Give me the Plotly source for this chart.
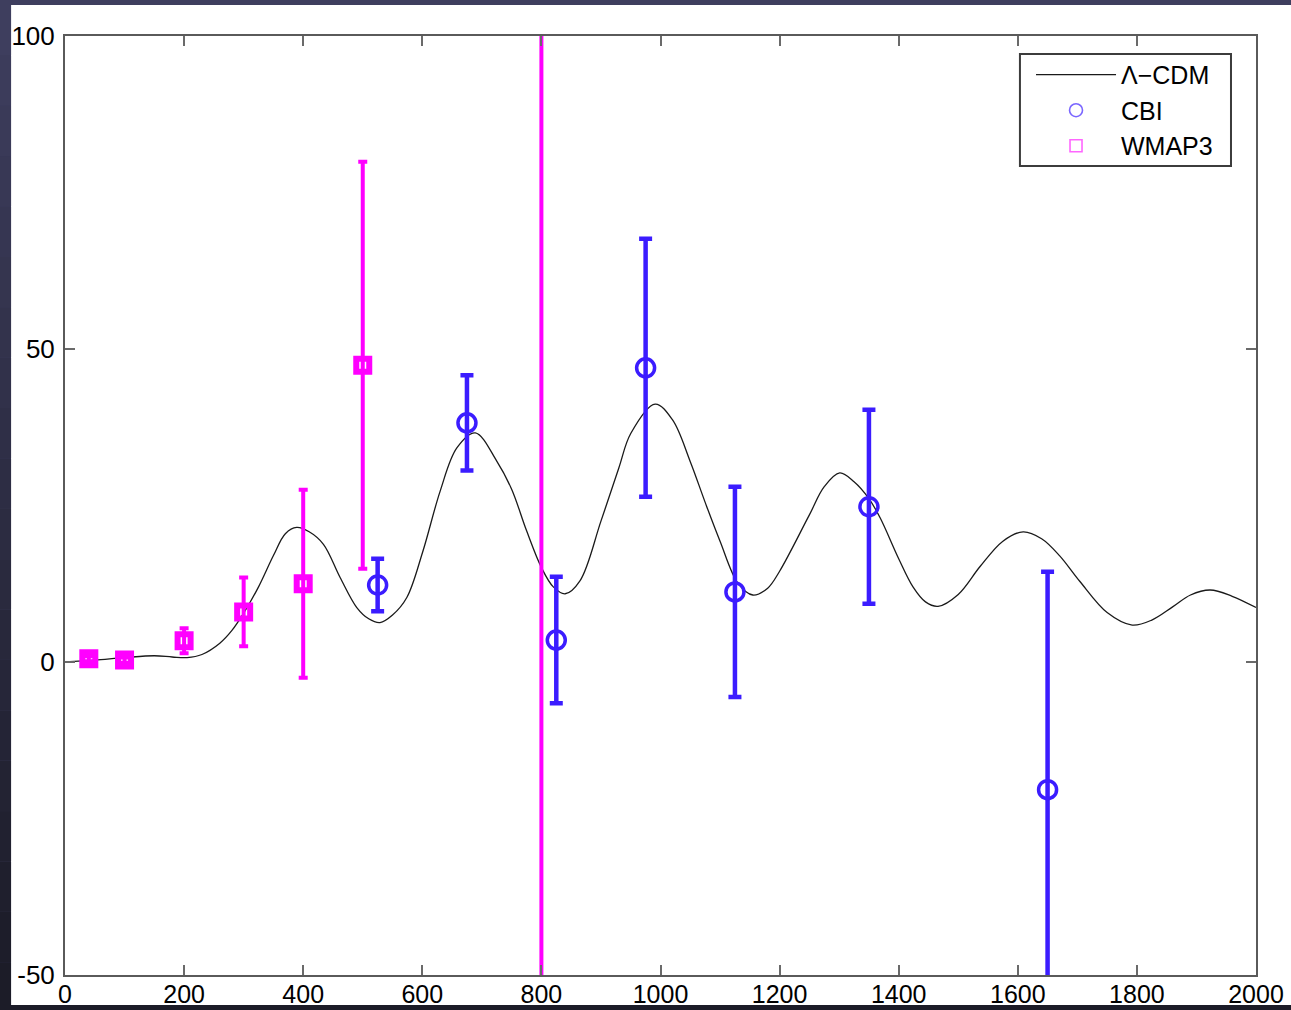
import plotly.graph_objects as go

# ---- data ----
# Lambda-CDM model curve
lcdm_l = [0, 50, 100, 150, 180, 205, 230, 260, 280, 300, 325, 350, 370, 389, 410,
          434, 462, 490, 510, 529, 550, 574, 601, 630, 658, 689, 725, 750, 775,
          800, 820, 840, 865, 900, 930, 950, 991, 1020, 1050, 1075, 1100, 1130,
          1155, 1180, 1200, 1250, 1275, 1301, 1325, 1350, 1369, 1400, 1424, 1445,
          1466, 1500, 1537, 1575, 1609, 1640, 1670, 1704, 1750, 1792, 1825, 1860,
          1890, 1923, 1960, 2000]
lcdm_v = [0.0, 0.3, 0.7, 1.0, 0.8, 0.7, 1.2, 3.0, 5.0, 7.8, 12.0, 17.0, 20.5, 21.5, 20.8,
          18.8, 13.5, 8.7, 6.9, 6.3, 7.5, 10.3, 17.7, 27.3, 34.2, 36.6, 32.1, 27.6, 21.0,
          15.1, 12.0, 10.9, 13.0, 22.5, 31.0, 36.5, 41.2, 38.7, 32.0, 25.5, 19.3, 12.6,
          10.7, 11.8, 14.5, 23.5, 28.0, 30.2, 28.8, 26.1, 23.0, 16.5, 12.0, 9.6,
          8.9, 10.8, 15.3, 19.3, 20.8, 19.7, 17.0, 12.9, 7.9, 5.9, 6.7, 8.8,
          10.7, 11.5, 10.5, 8.7]

# CBI band powers
cbi_l = [525, 675, 825, 975, 1125, 1350, 1650]
cbi_v = [12.3, 38.2, 3.5, 47.0, 11.2, 24.8, -20.4]
cbi_err = [4.2, 7.6, 10.1, 20.6, 16.8, 15.5, 34.8]

# WMAP3 band powers
wmap_l = [40, 100, 200, 300, 400, 500, 800]
wmap_v = [0.5, 0.3, 3.4, 8.0, 12.5, 47.4, -200.0]
wmap_err = [0.4, 0.4, 2.0, 5.5, 15.0, 32.5, 400.0]

x_ticks = [0, 200, 400, 600, 800, 1000, 1200, 1400, 1600, 1800, 2000]
x_tick_labels = ["0", "200", "400", "600", "800", "1000", "1200", "1400", "1600", "1800", "2000"]
y_ticks = [-50, 0, 50, 100]
y_tick_labels = ["-50", "0", "50", "100"]

BLUE = "#3b1cff"
MAGENTA = "#ff00ff"
FONT = "Liberation Sans, Arial, Helvetica, sans-serif"

fig = go.Figure()

# model curve
fig.add_trace(go.Scatter(
    x=lcdm_l, y=lcdm_v, mode="lines", name="Λ−CDM",
    line=dict(color="#1a1a1a", width=1.3, shape="spline", smoothing=1.0),
))

# legend-only entries (thin markers as in the reference legend)
fig.add_trace(go.Scatter(
    x=[None], y=[None], mode="markers", name="CBI",
    marker=dict(symbol="circle-open", size=13, color="#7a66ff", line=dict(width=1.6)),
))
fig.add_trace(go.Scatter(
    x=[None], y=[None], mode="markers", name="WMAP3",
    marker=dict(symbol="square-open", size=12, color="#ff66ff", line=dict(width=1.6)),
))

# WMAP3 data
fig.add_trace(go.Scatter(
    x=wmap_l, y=wmap_v, mode="markers", name="WMAP3", showlegend=False,
    marker=dict(symbol="square-open", size=13, color=MAGENTA, line=dict(width=6)),
    error_y=dict(type="data", array=wmap_err, visible=True, color=MAGENTA,
                 thickness=4, width=4.5),
))

# CBI data
fig.add_trace(go.Scatter(
    x=cbi_l, y=cbi_v, mode="markers", name="CBI", showlegend=False,
    marker=dict(symbol="circle-open", size=18, color=BLUE, line=dict(width=3.5)),
    error_y=dict(type="data", array=cbi_err, visible=True, color=BLUE,
                 thickness=4.5, width=6.5),
))

# background: dark frame with white figure area
shapes = [dict(type="rect", xref="paper", yref="paper",
               x0=-0.0453, x1=1.05, y0=-0.032, y1=1.033,
               fillcolor="white", line=dict(width=0), layer="below")]
# darker gradient on the left band
n = 20
top_c = (62, 62, 94)
bot_c = (28, 28, 40)
for i in range(n):
    t = i / (n - 1)
    c = tuple(int(top_c[k] + (bot_c[k] - top_c[k]) * t) for k in range(3))
    y1 = 1.033 - (1.033 + 0.04) * i / n
    y0 = 1.033 - (1.033 + 0.04) * (i + 1) / n
    shapes.append(dict(type="rect", xref="paper", yref="paper",
                       x0=-0.06, x1=-0.0453, y0=y0, y1=y1,
                       fillcolor="rgb(%d,%d,%d)" % c, line=dict(width=0), layer="below"))
shapes.append(dict(type="rect", xref="paper", yref="paper",
                   x0=-0.06, x1=1.05, y0=-0.04, y1=-0.032,
                   fillcolor="rgb(28,28,40)", line=dict(width=0), layer="below"))
# legend frame
shapes.append(dict(type="rect", xref="paper", yref="paper",
                   x0=0.8018, x1=0.9790, y0=0.8616, y1=0.9808,
                   fillcolor="white", line=dict(color="#3c3c3c", width=2), layer="above"))

axis_common = dict(
    showline=True, mirror="ticks", linecolor="#5a5a5a", linewidth=2,
    ticks="inside", ticklen=10, tickwidth=1.5, tickcolor="#6a6a6a",
    showgrid=False, zeroline=False, automargin=False,
)

fig.update_layout(
    width=1291, height=1010, autosize=False,
    margin=dict(l=65, r=35, t=36, b=35, pad=0, autoexpand=False),
    paper_bgcolor="rgb(62,62,94)",
    plot_bgcolor="white",
    shapes=shapes,
    xaxis=dict(range=[0, 2000], tickvals=x_ticks, ticktext=x_tick_labels,
               ticklabelstandoff=-4,
               tickfont=dict(family=FONT, size=25, color="black"), **axis_common),
    yaxis=dict(range=[-50, 100], tickvals=y_ticks, ticktext=y_tick_labels,
               ticklabelstandoff=3,
               tickfont=dict(family=FONT, size=26, color="black"), **axis_common),
    legend=dict(
        x=0.8111, y=0.983, xanchor="left", yanchor="top",
        bgcolor="rgba(0,0,0,0)", borderwidth=0,
        font=dict(family=FONT, size=25, color="black"),
        itemwidth=80, tracegroupgap=0,
    ),
    showlegend=True,
)

fig.write_html(
    "out.html",
    config={"displayModeBar": False},
    post_script="document.body.style.margin='0';document.body.style.overflow='hidden';",
)
